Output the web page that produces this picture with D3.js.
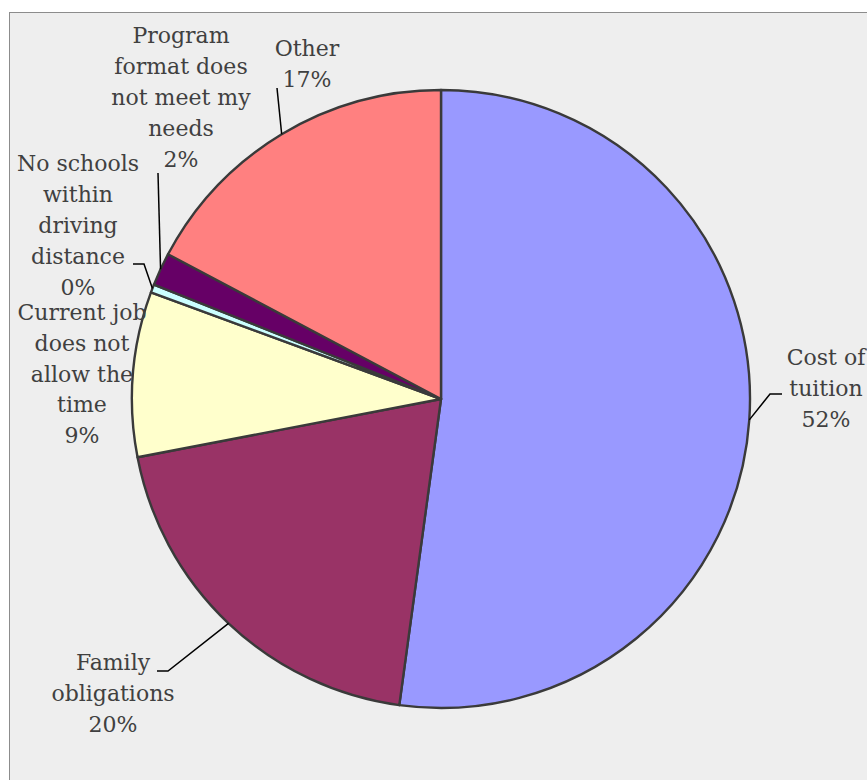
<!DOCTYPE html>
<html>
<head>
<meta charset="utf-8">
<script src="https://cdn.jsdelivr.net/npm/d3@7"></script>
<style>
  html, body { margin: 0; padding: 0; background: #ffffff; }
  svg { display: block; }
</style>
</head>
<body>
<svg id="chart" width="867" height="780"></svg>
<script>
// Reasons for not enrolling (response counts), in drawing order clockwise from 12 o'clock
const categories = [
  "Cost of\ntuition",
  "Family\nobligations",
  "Current job\ndoes not\nallow the\ntime",
  "No schools\nwithin\ndriving\ndistance",
  "Program\nformat does\nnot meet my\nneeds",
  "Other"
];
const counts = [121, 46, 20, 1, 4, 40];
const colors = ["#9999FF", "#993366", "#FFFFCC", "#CCFFFF", "#660066", "#FF8080"];

// Label placement: text centre x, first baseline y, line spacing and optional elbow points of the leader line
const labelLayout = [
  { x: 826, y: 365, lh: 31, elbow: [[782, 394], [770, 394]] },
  { x: 113, y: 670, lh: 31, elbow: [[157, 671], [168, 671]] },
  { x: 82,  y: 320, lh: 30.8, elbow: null },
  { x: 78,  y: 171, lh: 31, elbow: [[133, 264], [144, 264]] },
  { x: 181, y: 43,  lh: 31, elbow: [[158, 173]] },
  { x: 307, y: 56,  lh: 31, elbow: [[277, 88]] }
];

const width = 867, height = 780;
const cx = 441, cy = 399, radius = 309;

const svg = d3.select("#chart");

// chart area
svg.append("rect")
  .attr("x", 9.5).attr("y", 12.5)
  .attr("width", 900).attr("height", 900)
  .attr("fill", "#EEEEEE")
  .attr("stroke", "#8c8c8c")
  .attr("stroke-width", 1);

const total = d3.sum(counts);
const data = counts.map((v, i) => ({ name: categories[i], value: v, color: colors[i], layout: labelLayout[i] }));

const pie = d3.pie().value(d => d.value).sort(null);
const arcs = pie(data);
const arc = d3.arc().innerRadius(0).outerRadius(radius);

const g = svg.append("g").attr("transform", `translate(${cx},${cy})`);

g.selectAll("path.slice")
  .data(arcs)
  .join("path")
  .attr("class", "slice")
  .attr("d", arc)
  .attr("fill", d => d.data.color)
  .attr("stroke", "#3a3a3a")
  .attr("stroke-width", 2.4)
  .attr("stroke-linejoin", "round");

// leader lines: from label elbow to the arc at the slice's mid angle
const leaders = svg.append("g");
arcs.forEach(d => {
  const L = d.data.layout;
  if (!L.elbow) return;
  const mid = (d.startAngle + d.endAngle) / 2;
  const px = cx + radius * Math.sin(mid);
  const py = cy - radius * Math.cos(mid);
  const pts = L.elbow.concat([[px, py]]);
  leaders.append("path")
    .attr("d", d3.line()(pts))
    .attr("fill", "none")
    .attr("stroke", "#000000")
    .attr("stroke-width", 1.5);
});

// labels: category name plus rounded percentage
const labels = svg.append("g")
  .attr("font-family", "'DejaVu Serif', serif")
  .attr("font-size", 22)
  .attr("fill", "#404040")
  .attr("text-anchor", "middle");

arcs.forEach(d => {
  const L = d.data.layout;
  const lines = d.data.name.split("\n").concat([Math.round(d.data.value / total * 100) + "%"]);
  const t = labels.append("text").attr("x", L.x).attr("y", L.y);
  lines.forEach((s, i) => {
    t.append("tspan").attr("x", L.x).attr("y", L.y + i * L.lh).text(s);
  });
});
</script>
</body>
</html>
